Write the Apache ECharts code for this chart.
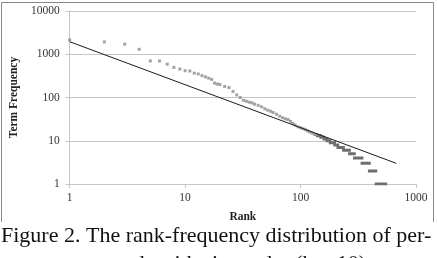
<!DOCTYPE html>
<html>
<head>
<meta charset="utf-8">
<script src="https://cdn.jsdelivr.net/npm/echarts@6/dist/echarts.min.js"></script>
<style>
  html, body { margin: 0; padding: 0; background: #fff; }
  #chart { width: 437px; height: 258px; }
</style>
</head>
<body>
<div id="chart"></div>
<script>
// head of the distribution: one point per rank
const ranks = [1, 2, 3, 4, 5, 6, 7, 8, 9, 10, 11, 12, 13, 14, 15, 16, 17, 18, 19, 20,
  22, 24, 26, 28, 30, 32, 34, 36, 38, 40, 43, 46, 49, 52, 55, 58, 62, 66, 70, 74,
  78, 82, 86, 90, 95, 100, 105, 110, 115, 120, 126, 132, 138]
const freqs = [2150, 1930, 1710, 1300, 700, 700, 590, 495, 455, 415, 410, 365, 350, 320, 300, 280, 262, 215, 205, 200,
  180, 170, 138, 115, 100, 86, 82, 78, 75, 70, 66, 61, 55, 51, 48, 45, 41, 37, 34, 32,
  31, 28, 25, 23, 21, 20, 19, 18, 17, 16, 15, 14, 14]

// tail: tied frequencies and the rank span they cover
const tieFreqs = [13, 12, 11, 10, 9, 8, 7, 6, 5, 4, 3, 2, 1]
const tieFirst = [140, 150, 160, 170, 181, 198, 211, 236, 266, 293, 341, 395, 452]
const tieLast  = [149, 159, 169, 180, 197, 210, 235, 265, 292, 340, 394, 448, 546]

// fitted power-law line
const fitRanks = [1, 676]
const fitFreqs = [1950, 3]

const xTicks = ['1', '10', '100', '1000']
const yTicks = ['1', '10', '100', '1000', '10000']

const chart = echarts.init(document.getElementById('chart'))

const serif = 'Liberation Serif'
const gridColor = '#c6c6c6'

const tieSeries = tieFreqs.map((f, i) => ({
  type: 'line',
  symbol: 'none',
  silent: true,
  z: 3,
  lineStyle: { color: '#6e6e6e', width: 3, cap: 'square' },
  data: [[tieFirst[i], f], [tieLast[i], f]]
}))

const option = {
  backgroundColor: '#fff',
  animation: false,
  grid: { left: 67, right: 21, top: 11, bottom: 74 },
  xAxis: {
    type: 'log',
    logBase: 10,
    min: 1,
    max: 1000,
    name: 'Rank',
    nameLocation: 'middle',
    nameGap: 27,
    nameTextStyle: { fontFamily: serif, fontWeight: 'bold', fontSize: 11.5, color: '#222' },
    axisLine: { show: true, lineStyle: { color: gridColor } },
    axisTick: { show: true, length: 4, lineStyle: { color: gridColor } },
    axisLabel: {
      fontFamily: serif, fontSize: 11.5, color: '#333', margin: 8,
      formatter: v => xTicks.includes(String(Math.round(v))) ? String(Math.round(v)) : ''
    },
    splitLine: { show: false }
  },
  yAxis: {
    type: 'log',
    logBase: 10,
    min: 1,
    max: 10000,
    name: 'Term Frequency',
    nameLocation: 'middle',
    nameGap: 46,
    nameTextStyle: { fontFamily: serif, fontWeight: 'bold', fontSize: 11.5, color: '#222' },
    axisLine: { show: true, lineStyle: { color: gridColor } },
    axisTick: { show: true, length: 4, lineStyle: { color: gridColor } },
    axisLabel: {
      fontFamily: serif, fontSize: 11.5, color: '#333', margin: 10,
      formatter: v => yTicks.includes(String(Math.round(v))) ? String(Math.round(v)) : ''
    },
    splitLine: { show: true, lineStyle: { color: gridColor } }
  },
  graphic: [
    {
      type: 'polyline',
      silent: true,
      shape: { points: [[1.5, 222], [1.5, 2.5], [433.5, 2.5], [433.5, 222]] },
      style: { stroke: '#8a8a8a', lineWidth: 1, fill: null }
    },
    {
      type: 'text',
      left: 1,
      top: 225,
      style: {
        text: 'Figure 2. The rank-frequency distribution of per-',
        font: '22px "Liberation Serif"',
        fill: '#111'
      }
    },
    {
      type: 'text',
      right: 71,
      top: 253,
      style: {
        text: 'sona words with size order (k = 10)',
        font: '22px "Liberation Serif"',
        fill: '#111'
      }
    }
  ],
  series: [
    {
      type: 'scatter',
      symbol: 'rect',
      symbolSize: 3,
      silent: true,
      z: 3,
      itemStyle: { color: '#8c8c8c' },
      data: ranks.map((r, i) => [r, freqs[i]])
    },
    ...tieSeries,
    {
      type: 'line',
      symbol: 'none',
      silent: true,
      z: 4,
      lineStyle: { color: '#1a1a1a', width: 1 },
      data: fitRanks.map((r, i) => [r, fitFreqs[i]])
    }
  ]
}

chart.setOption(option)
</script>
</body>
</html>
